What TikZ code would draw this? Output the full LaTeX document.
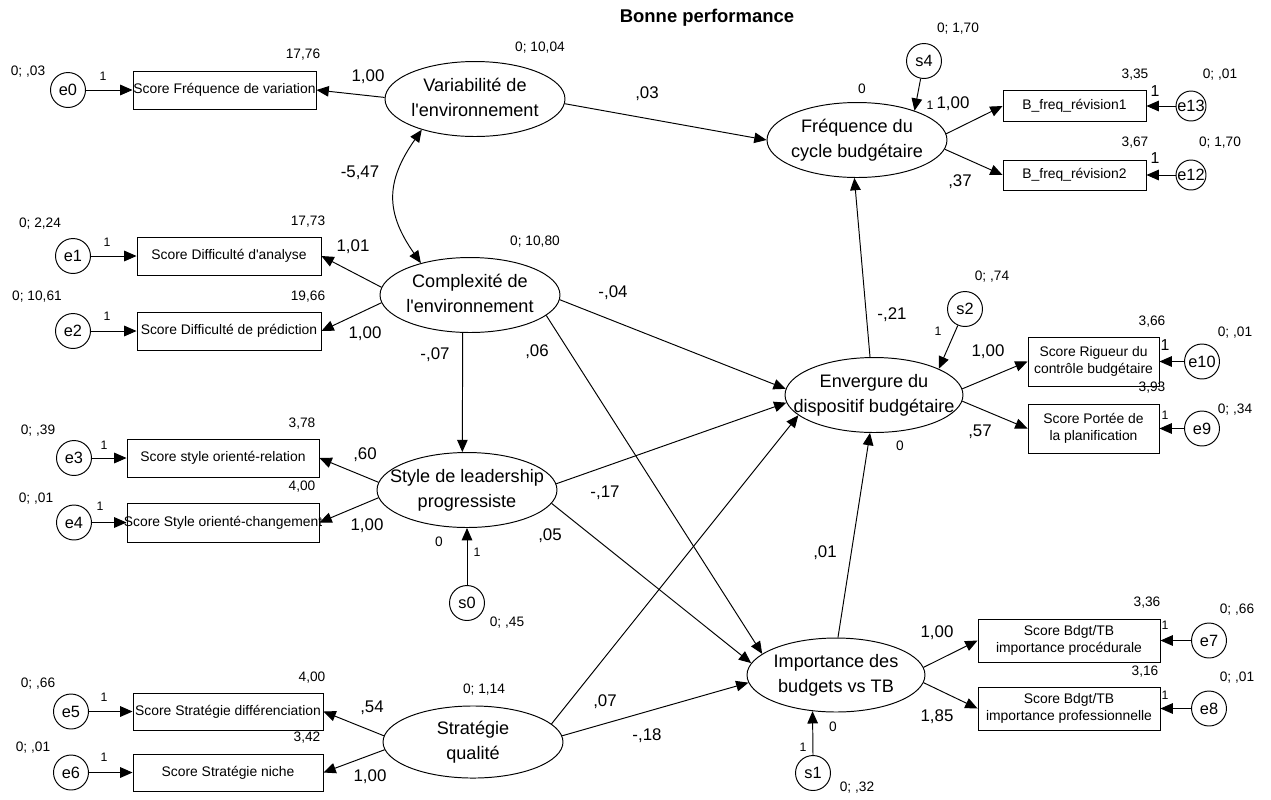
\documentclass[tikz,border=0pt]{standalone}
\usepackage{fontspec}
\setmainfont{Liberation Sans}
\usetikzlibrary{arrows.meta,shapes.geometric}

\newcommand{\boxtext}[1]{\makebox[0pt]{\begin{tabular}{@{}c@{}}#1\end{tabular}}}

\begin{document}
\begin{tikzpicture}[x=0.02cm, y=-0.02cm, line width=0.55pt,
    latent/.style={ellipse, draw, inner sep=0pt, minimum width=3.6cm, minimum height=1.5cm, font=\fontsize{10.3}{14.5}\selectfont},
    obs/.style={rectangle, draw, inner sep=0pt, font=\fontsize{7.9}{10}\selectfont},
    err/.style={circle, draw, inner sep=0pt, minimum size=0.7cm, font=\fontsize{9.3}{11}\selectfont},
    est/.style={inner sep=0pt, font=\fontsize{7.8}{9}\selectfont},
    coef/.style={inner sep=0pt, font=\fontsize{9.6}{11}\selectfont},
    one/.style={inner sep=0pt, font=\fontsize{7}{8}\selectfont},
    arrow/.style={-{Triangle[length=7pt, width=6pt]}},
    cov/.style={{Triangle[length=7pt, width=6pt]}-{Triangle[length=7pt, width=6pt]}}
]
    \useasboundingbox (0,0) rectangle (1271,799);

    \node[font=\bfseries\fontsize{10.5}{12}\selectfont] (title) at (707,18) {Bonne performance};

    % latent variables
    \node[latent] (var) at (475,99) {\boxtext{Variabilité de\\l\textquotesingle environnement}};
    \node[latent] (compl) at (470,295) {\boxtext{Complexité de\\l\textquotesingle environnement}};
    \node[latent] (lead) at (467,490) {\boxtext{Style de leadership\\progressiste}};
    \node[latent, minimum height=1.44cm] (strat) at (473,742) {\boxtext{Stratégie\\qualité}};
    \node[latent] (freq) at (857,140) {\boxtext{Fréquence du\\cycle budgétaire}};
    \node[latent, minimum width=3.56cm] (env) at (874,395) {\boxtext{Envergure du\\dispositif budgétaire}};
    \node[latent, minimum width=3.56cm, minimum height=1.48cm] (imp) at (836,675) {\boxtext{Importance des\\budgets vs TB}};

    % indicators
    \node[obs, minimum width=3.66cm, minimum height=0.76cm] (b0) at (224.5,90) {\boxtext{Score Fréquence de variation}};
    \node[obs, minimum width=3.68cm, minimum height=0.76cm] (b1) at (229,256) {\boxtext{Score Difficulté d\textquotesingle analyse}};
    \node[obs, minimum width=3.68cm, minimum height=0.76cm] (b2) at (229,331) {\boxtext{Score Difficulté de prédiction}};
    \node[obs, minimum width=3.84cm, minimum height=0.76cm] (b3) at (223,458) {\boxtext{Score style orienté-relation}};
    \node[obs, minimum width=3.84cm, minimum height=0.78cm] (b4) at (223,522.5) {\boxtext{Score Style orienté-changement}};
    \node[obs, minimum width=3.8cm, minimum height=0.74cm] (b5) at (228,711.5) {\boxtext{Score Stratégie différenciation}};
    \node[obs, minimum width=3.8cm, minimum height=0.74cm] (b6) at (228,772.5) {\boxtext{Score Stratégie niche}};
    \node[obs, minimum width=2.86cm, minimum height=0.62cm] (b13) at (1074.5,106) {\boxtext{B\_freq\_révision1}};
    \node[obs, minimum width=2.86cm, minimum height=0.6cm] (b12) at (1074.5,175) {\boxtext{B\_freq\_révision2}};
    \node[obs, minimum width=2.62cm, minimum height=0.98cm] (b10) at (1093.5,361.5) {\boxtext{Score Rigueur du\\contrôle budgétaire}};
    \node[obs, minimum width=2.62cm, minimum height=0.98cm] (b9) at (1093.5,428.5) {\boxtext{Score Portée de\\la planification}};
    \node[obs, minimum width=3.64cm, minimum height=0.86cm] (b7) at (1069,640.5) {\boxtext{Score Bdgt/TB\\importance procédurale}};
    \node[obs, minimum width=3.64cm, minimum height=0.86cm] (b8) at (1069,708.5) {\boxtext{Score Bdgt/TB\\importance professionnelle}};

    % residuals
    \node[err] (e0) at (68,90) {e0};
    \node[err] (e1) at (73,256) {e1};
    \node[err] (e2) at (73,331) {e2};
    \node[err] (e3) at (74,458) {e3};
    \node[err] (e4) at (74,522.5) {e4};
    \node[err] (e5) at (71,711.5) {e5};
    \node[err] (e6) at (71,772.5) {e6};
    \node[err, minimum size=0.6cm] (e13) at (1191,106) {e13};
    \node[err, minimum size=0.6cm] (e12) at (1191,175) {e12};
    \node[err] (e10) at (1202,361.5) {e10};
    \node[err] (e9) at (1202,428.5) {e9};
    \node[err] (e7) at (1209,640.5) {e7};
    \node[err] (e8) at (1209,708.5) {e8};
    \node[err] (s4) at (924,61) {s4};
    \node[err] (s2) at (965,309) {s2};
    \node[err] (s0) at (467,603) {s0};
    \node[err] (s1) at (813,773) {s1};

    % residual arrows
    \draw[arrow] (e0.east) -- (b0.west);
    \draw[arrow] (e1.east) -- (b1.west);
    \draw[arrow] (e2.east) -- (b2.west);
    \draw[arrow] (e3.east) -- (b3.west);
    \draw[arrow] (e4.east) -- (b4.west);
    \draw[arrow] (e5.east) -- (b5.west);
    \draw[arrow] (e6.east) -- (b6.west);
    \draw[arrow] (e13.west) -- (b13.east);
    \draw[arrow] (e12.west) -- (b12.east);
    \draw[arrow] (e10.west) -- (b10.east);
    \draw[arrow] (e9.west) -- (b9.east);
    \draw[arrow] (e7.west) -- (b7.east);
    \draw[arrow] (e8.west) -- (b8.east);
    \draw[arrow] (s4) -- (freq.27);
    \draw[arrow] (s2) -- (env.22);
    \draw[arrow] (s0.north) -- (lead.south);
    \draw[arrow] (s1.north) -- (imp.237);

    % loadings
    \draw[arrow] (var.179) -- (b0.east);
    \draw[arrow] (compl.175) -- (b1.east);
    \draw[arrow] (compl.185) -- (b2.east);
    \draw[arrow] (lead.175) -- (b3.east);
    \draw[arrow] (lead.185) -- (b4.east);
    \draw[arrow] (strat.176) -- (b5.east);
    \draw[arrow] (strat.185) -- (b6.east);
    \draw[arrow] (freq.4) -- (b13.west);
    \draw[arrow] (freq.354) -- (b12.west);
    \draw[arrow] (env.4) -- (b10.west);
    \draw[arrow] (env.356) -- (b9.west);
    \draw[arrow] (imp.5) -- (b7.west);
    \draw[arrow] (imp.355) -- (b8.west);

    % structural paths
    \draw[cov] (var.210) to[out=235, in=125, looseness=1.2] (compl.147);
    \draw[arrow] (var.357) -- (freq.west);
    \draw[arrow] (compl.259.4) -- (lead.97.7);
    \draw[arrow] (compl.357) -- (env.176);
    \draw[arrow] (compl.345) -- (imp.164);
    \draw[arrow] (lead.4) -- (env.185);
    \draw[arrow] (lead.351) -- (imp.172);
    \draw[arrow] (strat.13) -- (env.195);
    \draw[arrow] (strat.4) -- (imp.185);
    \draw[arrow] (env.96) -- (freq.266);
    \draw[arrow] (imp.87) -- (env.264);

    % intercepts and variances
    \node[est] (i0) at (303,55) {17,76};
    \node[est] (v0) at (28,72) {0; ,03};
    \node[est] (vvar) at (540,48) {0; 10,04};
    \node[est] (ifreq) at (862,89) {0};
    \node[est] (vs4) at (958,29) {0; 1,70};
    \node[est] (i13) at (1135,75) {3,35};
    \node[est] (v13) at (1220,75) {0; ,01};
    \node[est] (i12) at (1135,143) {3,67};
    \node[est] (v12) at (1220,143) {0; 1,70};
    \node[est] (i1) at (308,222) {17,73};
    \node[est] (v1) at (40,224) {0; 2,24};
    \node[est] (i2) at (308,297) {19,66};
    \node[est] (v2) at (37,297) {0; 10,61};
    \node[est] (vcompl) at (535,242) {0; 10,80};
    \node[est] (vs2) at (992,277) {0; ,74};
    \node[est] (i10) at (1152,322) {3,66};
    \node[est] (v10) at (1235,333) {0; ,01};
    \node[est] (i9) at (1152,388) {3,93};
    \node[est] (v9) at (1235,410) {0; ,34};
    \node[est] (ienv) at (900,446) {0};
    \node[est] (i3) at (302,424) {3,78};
    \node[est] (v3) at (38,431) {0; ,39};
    \node[est] (i4) at (302,487) {4,00};
    \node[est] (v4) at (36,499) {0; ,01};
    \node[est] (ilead) at (439,542) {0};
    \node[est] (vs0) at (507,623) {0; ,45};
    \node[est] (i7) at (1147,603) {3,36};
    \node[est] (v7) at (1237,610) {0; ,66};
    \node[est] (i8) at (1145,672) {3,16};
    \node[est] (v8) at (1237,678) {0; ,01};
    \node[est] (iimp) at (833,727) {0};
    \node[est] (vs1) at (857,788) {0; ,32};
    \node[est] (vstrat) at (484,690) {0; 1,14};
    \node[est] (i5) at (312,678) {4,00};
    \node[est] (v5) at (38,684) {0; ,66};
    \node[est] (i6) at (307,738) {3,42};
    \node[est] (v6) at (33,748) {0; ,01};

    % fixed weights
    \node[one] (w0) at (103,76) {1};
    \node[one] (w1) at (107,242) {1};
    \node[one] (w2) at (107,316) {1};
    \node[one] (w3) at (104,445) {1};
    \node[one] (w4) at (100,506) {1};
    \node[one] (w5) at (104,697) {1};
    \node[one] (w6) at (104,757) {1};
    \node[one] (ws0) at (477,552) {1};
    \node[one] (ws2) at (938,331) {1};
    \node[one] (ws1) at (803,747) {1};
    \node[one] (ws4) at (930,105) {1};
    \node[one] (w9) at (1165,415) {1};
    \node[one] (w7) at (1165,625) {1};
    \node[one] (w8) at (1165,695) {1};
    \node[one, font=\fontsize{9}{10}\selectfont] (w13) at (1155,91) {1};
    \node[one, font=\fontsize{9}{10}\selectfont] (w12) at (1155,158) {1};
    \node[one, font=\fontsize{9}{10}\selectfont] (w10) at (1165,345) {1};

    % path coefficients
    \node[coef] (c0) at (368,77) {1,00};
    \node[coef] (c1) at (647,94) {,03};
    \node[coef] (c2) at (360,173) {-5,47};
    \node[coef] (c3) at (353,247) {1,01};
    \node[coef] (c4) at (365,334) {1,00};
    \node[coef] (c5) at (613,293) {-,04};
    \node[coef] (c6) at (435,355) {-,07};
    \node[coef] (c7) at (537,352) {,06};
    \node[coef] (c8) at (365,455) {,60};
    \node[coef] (c9) at (367,526) {1,00};
    \node[coef] (c10) at (605,493) {-,17};
    \node[coef] (c11) at (550,536) {,05};
    \node[coef] (c12) at (605,702) {,07};
    \node[coef] (c13) at (647,736) {-,18};
    \node[coef] (c14) at (372,708) {,54};
    \node[coef] (c15) at (370,777) {1,00};
    \node[coef] (c16) at (953,104) {1,00};
    \node[coef] (c17) at (960,182) {,37};
    \node[coef] (c18) at (892,315) {-,21};
    \node[coef] (c19) at (988,352) {1,00};
    \node[coef] (c20) at (980,432) {,57};
    \node[coef] (c21) at (825,553) {,01};
    \node[coef] (c22) at (937,633) {1,00};
    \node[coef] (c23) at (937,717) {1,85};
\end{tikzpicture}
\end{document}
